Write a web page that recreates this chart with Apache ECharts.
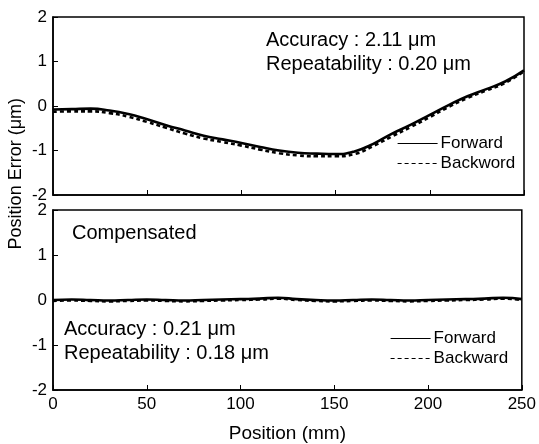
<!DOCTYPE html>
<html lang="en">
  <head>
    <meta charset="UTF-8" />
    <script src="https://cdn.jsdelivr.net/npm/echarts@6/dist/echarts.min.js"></script>
    <title>Position error</title>
    <style>
      html,
      body,
      #chart {
        width: 539px;
        height: 444px;
        margin: 0;
        padding: 0;
        overflow: hidden;
        background: #fff;
      }
    </style>
  </head>
  <body>
    <div id="chart"></div>
    <script>
      // position along the axis (mm)
      const positions = [0, 10, 20, 30, 40, 50, 60, 70, 80, 90, 100, 110, 120,
        130, 140, 150, 160, 170, 180, 190, 200, 210, 220, 230, 240, 250];
      // uncompensated error (um)
      const rawForward = [-0.08, -0.07, -0.06, -0.1, -0.18, -0.3, -0.43, -0.55,
        -0.67, -0.75, -0.83, -0.92, -1.0, -1.05, -1.07, -1.08, -1.02, -0.85,
        -0.62, -0.42, -0.2, 0.02, 0.22, 0.38, 0.55, 0.8];
      const rawBackward = [-0.13, -0.12, -0.12, -0.16, -0.24, -0.36, -0.49,
        -0.62, -0.73, -0.81, -0.89, -0.98, -1.06, -1.11, -1.13, -1.13, -1.08,
        -0.9, -0.68, -0.47, -0.25, -0.02, 0.18, 0.35, 0.52, 0.78];
      // compensated error (um)
      const compForward = [0.0, 0.01, 0.0, -0.01, 0.0, 0.01, 0.0, -0.01, 0.0,
        0.01, 0.02, 0.03, 0.05, 0.02, 0.0, -0.01, 0.0, 0.01, 0.0, -0.01, 0.0,
        0.01, 0.02, 0.03, 0.05, 0.02];
      const compBackward = [-0.02, -0.01, -0.02, -0.03, -0.02, -0.01, -0.02,
        -0.03, -0.02, -0.01, 0.0, 0.01, 0.03, 0.0, -0.02, -0.03, -0.02, -0.01,
        -0.02, -0.03, -0.02, -0.01, 0.0, 0.01, 0.03, 0.0];
      const yTicks = [-2, -1, 0, 1, 2];

      const pair = (ys) => positions.map((x, i) => [x, ys[i]]);
      const font = "Liberation Sans, Arial, sans-serif";

      function xAxisFor(idx, showLabel) {
        return {
          type: "value",
          gridIndex: idx,
          min: 0,
          max: 250,
          interval: 50,
          axisLine: { onZero: false, lineStyle: { color: "#000", width: 1.5 } },
          axisTick: { inside: true, length: 5, lineStyle: { color: "#000" } },
          axisLabel: { show: showLabel, color: "#000", fontSize: 17, fontFamily: font, margin: 6 },
          splitLine: { show: false },
          name: showLabel ? "Position (mm)" : "",
          nameLocation: "middle",
          nameGap: 34,
          nameTextStyle: { color: "#000", fontSize: 19, fontFamily: font },
        };
      }
      function yAxisFor(idx) {
        return {
          type: "value",
          gridIndex: idx,
          min: yTicks[0],
          max: yTicks[yTicks.length - 1],
          interval: 1,
          axisLine: { onZero: false, lineStyle: { color: "#000", width: 1.5 } },
          axisTick: { inside: true, length: 5, lineStyle: { color: "#000" } },
          axisLabel: { color: "#000", fontSize: 17, fontFamily: font, margin: 6 },
          splitLine: { show: false },
        };
      }
      function lineSeries(name, idx, data, dashed) {
        return {
          name: name,
          type: "line",
          xAxisIndex: idx,
          yAxisIndex: idx,
          data: pair(data),
          smooth: true,
          symbol: "none",
          lineStyle: { color: "#000", width: 2.6, type: dashed ? [4, 3] : "solid" },
          itemStyle: { color: "#000" },
        };
      }
      function legendFor(names, left, top) {
        return {
          data: names,
          orient: "vertical",
          left: left,
          top: top,
          padding: 0,
          itemWidth: 40,
          itemHeight: 10,
          itemGap: 3,
          itemStyle: { opacity: 0 },
          lineStyle: { width: 1.2 },
          textStyle: { color: "#000", fontSize: 17, fontFamily: font, padding: [0, 0, 0, -2] },
        };
      }
      function label(text, left, top) {
        return { type: "text", left: left, top: top, style: { text: text, fontSize: 20, fontFamily: font, fill: "#000" } };
      }

      const chart = echarts.init(document.getElementById("chart"));
      chart.setOption({
        animation: false,
        backgroundColor: "#fff",
        textStyle: { fontFamily: font },
        grid: [
          { left: 53, top: 17, width: 471, height: 178, show: true, borderColor: "#000", borderWidth: 1.5 },
          { left: 53, top: 210, width: 471, height: 181, show: true, borderColor: "#000", borderWidth: 1.5 },
        ],
        xAxis: [xAxisFor(0, false), xAxisFor(1, true)],
        yAxis: [yAxisFor(0), yAxisFor(1)],
        legend: [
          legendFor(["Forward", "Backword"], 397, 135),
          legendFor(["Forward", "Backward"], 390, 330),
        ],
        graphic: [
          label("Accuracy : 2.11 μm", 266, 30),
          label("Repeatability : 0.20 μm", 266, 54),
          label("Compensated", 72, 223),
          label("Accuracy : 0.21 μm", 64, 319),
          label("Repeatability : 0.18 μm", 64, 343),
          {
            type: "text",
            left: 7,
            top: 98,
            rotation: Math.PI / 2,
            style: { text: "Position Error (μm)", fontSize: 18, fontFamily: font, fill: "#000" },
          },
        ],
        series: [
          lineSeries("Forward", 0, rawForward, false),
          lineSeries("Backword", 0, rawBackward, true),
          lineSeries("Forward", 1, compForward, false),
          lineSeries("Backward", 1, compBackward, true),
        ],
      });
    </script>
  </body>
</html>
